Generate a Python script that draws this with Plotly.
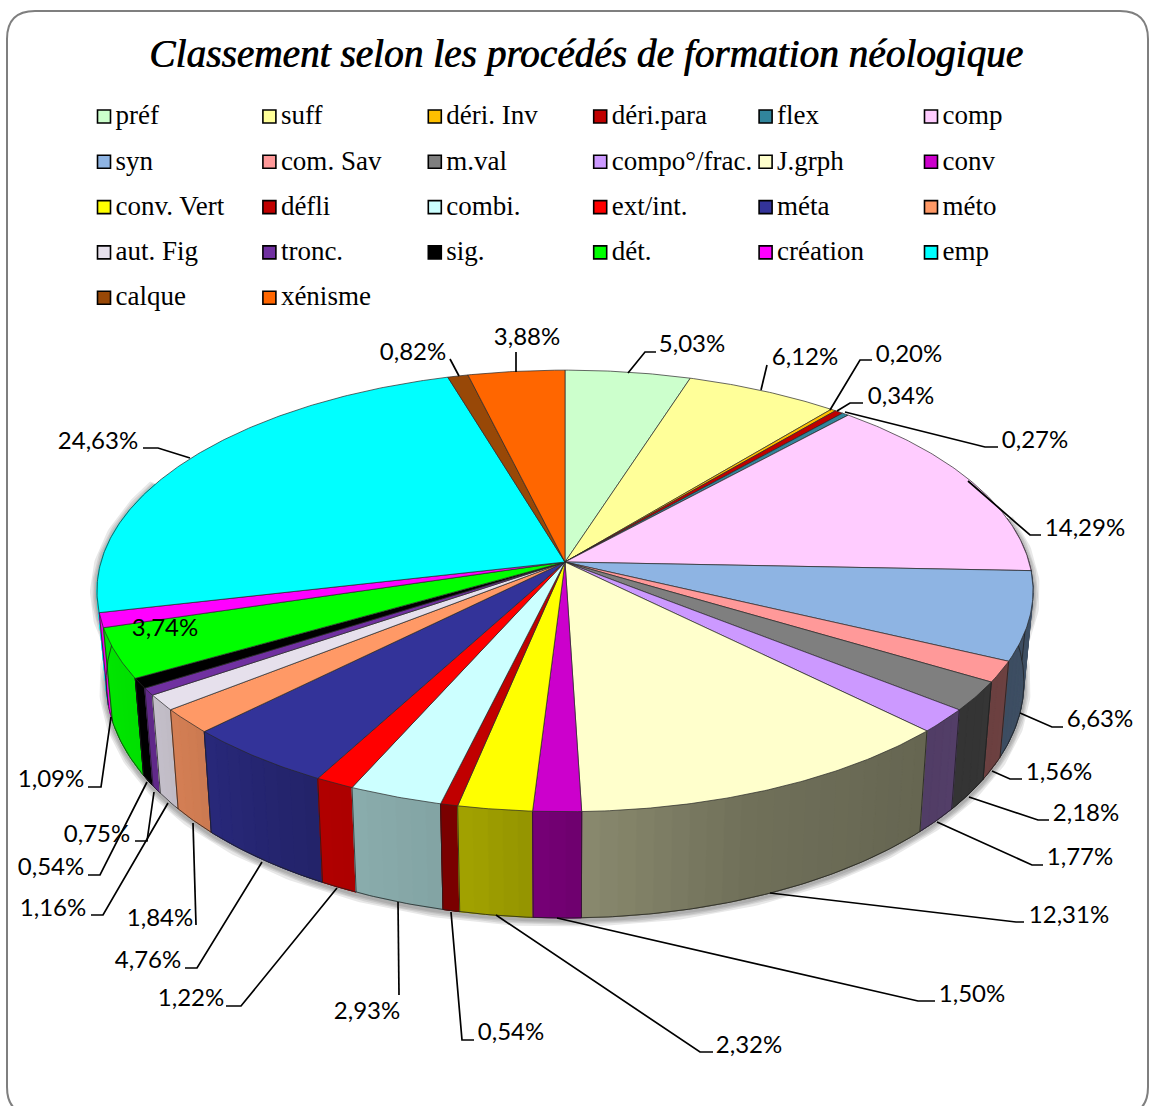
import numpy as np
import plotly.graph_objects as go

TITLE = "Classement selon les procédés de formation néologique"
CATEGORIES = ["préf", "suff", "déri. Inv", "déri.para", "flex", "comp",
              "syn", "com. Sav", "m.val", "compo°/frac.", "J.grph", "conv",
              "conv. Vert", "défli", "combi.", "ext/int.", "méta", "méto",
              "aut. Fig", "tronc.", "sig.", "dét.", "création", "emp",
              "calque", "xénisme"]
VALUES = [5.03, 6.12, 0.20, 0.34, 0.27, 14.29,
          6.63, 1.56, 2.18, 1.77, 12.31, 1.50,
          2.32, 0.54, 2.93, 1.22, 4.76, 1.84,
          1.16, 0.54, 0.75, 3.74, 1.09, 24.63,
          0.82, 3.88]
COLORS = ["#CCFFCC", "#FFFF99", "#FFC000", "#C00000", "#31859C", "#FFCCFF",
          "#8EB4E3", "#FF9999", "#7F7F7F", "#CC99FF", "#FFFFCC", "#CC00CC",
          "#FFFF00", "#C00000", "#CCFFFF", "#FF0000", "#333399", "#FF9966",
          "#E6E0EC", "#7030A0", "#000000", "#00FF00", "#FF00FF", "#00FFFF",
          "#984807", "#FF6600"]

# label centre (x, y) in picture pixels, same order as VALUES
LABEL_XY = [(692, 346), (805, 359), (909, 356), (901, 398), (1035, 442), (1085, 530),
            (1100, 721), (1059, 774), (1086, 815), (1080, 859), (1069, 917), (972, 996),
            (749, 1047), (511, 1034), (367, 1013), (191, 1000), (148, 962), (160, 920),
            (53, 910), (51, 869), (97, 836), (165, 630), (51, 781), (98, 443),
            (413, 354), (527, 339)]
# leader polylines for the labels, same order as VALUES
LEADERS = [[(628, 373), (645, 352), (656, 352)],
           [(761, 390), (767, 365)],
           [(830, 410), (860, 360), (872, 360)],
           [(837, 411), (850, 403), (863, 403)],
           [(845, 412), (985, 447), (998, 447)],
           [(968, 481), (1030, 535), (1041, 535)],
           [(1020, 713), (1052, 727), (1063, 727)],
           [(992, 771), (1010, 779), (1022, 779)],
           [(969, 797), (1038, 820), (1049, 820)],
           [(937, 822), (1032, 865), (1043, 865)],
           [(770, 893), (1016, 922), (1024, 922)],
           [(557, 918), (918, 1001), (935, 1001)],
           [(496, 915), (700, 1052), (713, 1052)],
           [(451, 912), (462, 1040), (474, 1040)],
           [(398, 902), (399, 995)],
           [(337, 888), (241, 1006), (226, 1006)],
           [(262, 862), (197, 968), (185, 968)],
           [(193, 823), (196, 925)],
           [(168, 803), (103, 915), (91, 915)],
           [(147, 782), (100, 875), (88, 875)],
           [(154, 792), (147, 841), (135, 841)],
           [],
           [(111, 717), (101, 787), (88, 787)],
           [(190, 458), (158, 448), (143, 448)],
           [(459, 376), (450, 359)],
           [(516, 372), (516, 352)]]

# perspective model of the drum
CX = 565
K = 0.131
TOP = dict(a=464, b=217, cy=562)
BOT = dict(a=455, b=232, cy=651)
# wall brightness by angle (degrees clockwise from the back)
SHADE_ANG = [80, 100, 135, 160, 178, 190, 210, 225, 240, 265, 290]
SHADE_VAL = [.48, .45, .40, .44, .54, .63, .70, .80, .88, .93, .95]


def proj(deg, p):
    t = np.radians(np.asarray(deg, dtype=float))
    u, v = np.sin(t), -np.cos(t)
    s = 1 / (1 - K * v)
    return CX + p["a"] * u * s, p["cy"] + p["b"] * v * s


def arc(a0, a1):
    n = max(2, int(abs(a1 - a0) / 0.5) + 2)
    return np.linspace(a0, a1, n)


def shade(hex_color, f):
    r, g, b = [int(hex_color[i:i + 2], 16) for i in (1, 3, 5)]
    return f"rgb({int(r * f)},{int(g * f)},{int(b * f)})"


def wall_poly(a0, a1):
    xa, ya = proj(arc(a0, a1), TOP)
    xb, yb = proj(arc(a1, a0), BOT)
    return np.r_[xa, xb, xa[0]], np.r_[ya, yb, ya[0]]


cum = np.cumsum([0] + VALUES) / sum(VALUES) * 360
starts, ends = cum[:-1], cum[1:]

fig = go.Figure()
W0, W1 = 78, 292

# soft shadow round the wall
sx, sy = wall_poly(W0, W1)
for w in (14, 10, 7, 4):
    fig.add_trace(go.Scatter(x=sx, y=sy + 2, mode="lines", hoverinfo="skip",
                             line=dict(color="rgba(0,0,0,0.09)", width=w)))

# walls, sides first, in narrow strips so that the shading varies
order = sorted(range(len(VALUES)), key=lambda i: -abs((starts[i] + ends[i]) / 2 - 180))
edge_x, edge_y = [], []
for i in order:
    a0, a1 = max(starts[i], W0), min(ends[i], W1)
    if a1 <= a0:
        continue
    mid = float(np.interp((a0 + a1) / 2, SHADE_ANG, SHADE_VAL))
    px, py = wall_poly(a0, a1)
    fig.add_trace(go.Scatter(x=px, y=py, mode="lines", fill="toself",
                             fillcolor=shade(COLORS[i], mid),
                             line=dict(color=shade(COLORS[i], mid), width=1),
                             name=CATEGORIES[i], hoverinfo="name"))
    cuts = np.linspace(a0, a1, max(2, int((a1 - a0) / 2) + 2))
    for c0, c1 in zip(cuts[:-1], cuts[1:]):
        px, py = wall_poly(c0, c1)
        col = shade(COLORS[i], float(np.interp((c0 + c1) / 2, SHADE_ANG, SHADE_VAL)))
        fig.add_trace(go.Scatter(x=px, y=py, mode="lines", fill="toself", fillcolor=col,
                                 line=dict(color=col, width=1),
                                 name=CATEGORIES[i], hoverinfo="name"))
    if W0 <= starts[i] <= W1:
        x0, y0 = proj([starts[i]], TOP)
        x1, y1 = proj([starts[i]], BOT)
        edge_x += [x0[0], x1[0], None]
        edge_y += [y0[0], y1[0], None]
xa, ya = proj(arc(W0, W1), BOT)
fig.add_trace(go.Scatter(x=list(xa) + [None] + edge_x, y=list(ya) + [None] + edge_y,
                         mode="lines", hoverinfo="skip", connectgaps=False,
                         line=dict(color="rgba(30,30,30,0.75)", width=1)))

# top face
for i in range(len(VALUES)):
    xa, ya = proj(arc(starts[i], ends[i]), TOP)
    fig.add_trace(go.Scatter(x=np.r_[CX, xa, CX], y=np.r_[TOP["cy"], ya, TOP["cy"]],
                             mode="lines", fill="toself", fillcolor=COLORS[i],
                             line=dict(color="rgba(40,40,40,0.7)", width=1),
                             name=CATEGORIES[i], hoverinfo="name"))

# leaders
lx, ly = [], []
for pts in LEADERS:
    if pts:
        lx += [p[0] for p in pts] + [None]
        ly += [p[1] for p in pts] + [None]
fig.add_trace(go.Scatter(x=lx, y=ly, mode="lines", hoverinfo="skip",
                         line=dict(color="black", width=1.7)))

# percentage labels
fig.add_trace(go.Scatter(x=[p[0] for p in LABEL_XY], y=[p[1] for p in LABEL_XY],
                         mode="text", hoverinfo="skip",
                         text=[f"{v:.2f}%".replace(".", ",") for v in VALUES],
                         textposition="middle center",
                         textfont=dict(family="Lato", size=24, color="black")))

# legend, six columns
COLS, X0, DX, Y0, DY = 6, 104, 165.4, 116.5, 45.3
gx = np.array([X0 + DX * (i % COLS) for i in range(len(CATEGORIES))])
gy = np.array([Y0 + DY * (i // COLS) for i in range(len(CATEGORIES))])
fig.add_trace(go.Scatter(x=gx, y=gy, mode="markers", hoverinfo="skip",
                         marker=dict(symbol="square", size=13, color=COLORS,
                                     line=dict(color="black", width=1.6))))
fig.add_trace(go.Scatter(x=gx + 11.5, y=gy + 1, mode="text", hoverinfo="skip",
                         text=CATEGORIES, textposition="middle right",
                         textfont=dict(family="Liberation Serif", size=27, color="black")))

fig.add_shape(type="path", layer="below",
              path="M 7 39 Q 7 11 35 11 L 1120 11 Q 1148 11 1148 39 L 1148 1087 "
                   "Q 1148 1115 1120 1115 L 35 1115 Q 7 1115 7 1087 Z",
              line=dict(color="#7f7f7f", width=2))

fig.update_layout(
    width=1150, height=1106, margin=dict(l=0, r=0, t=0, b=0),
    paper_bgcolor="white", plot_bgcolor="white", showlegend=False,
    title=dict(text=TITLE, x=586 / 1150, y=1 - 53 / 1106, xanchor="center", yanchor="middle",
               font=dict(family="Liberation Serif", size=39.3, style="italic", color="black",
                         shadow="0.8px 0 0 black")),
    xaxis=dict(range=[0, 1150], visible=False, fixedrange=True),
    yaxis=dict(range=[1106, 0], visible=False, fixedrange=True),
)
fig.write_html("out.html", config={"displayModeBar": False},
               post_script="document.body.style.margin='0';document.body.style.overflow='hidden';")
